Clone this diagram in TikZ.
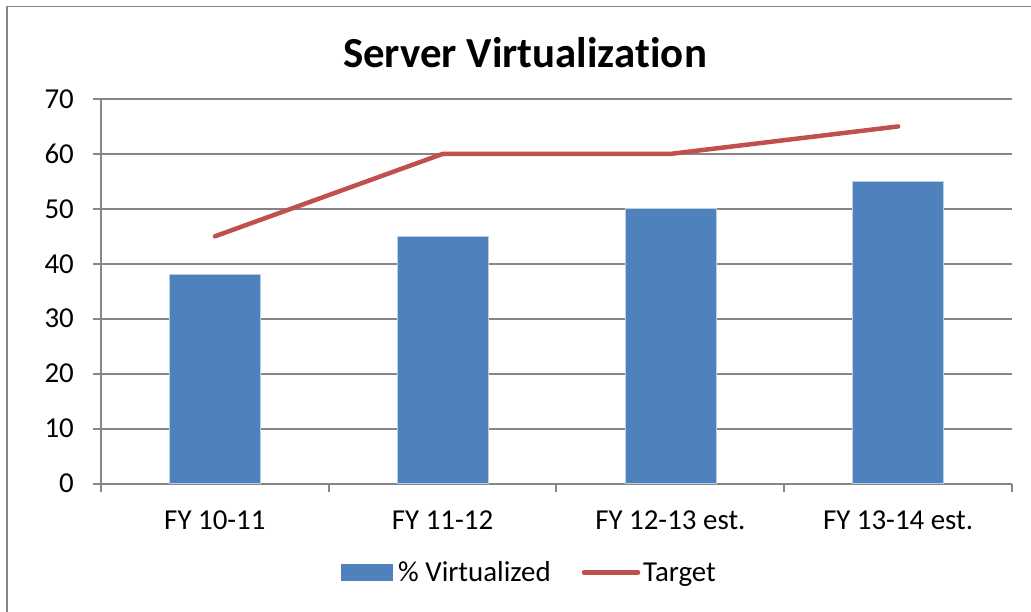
\documentclass[tikz,border=0pt]{standalone}
\usepackage{fontspec}
\setmainfont[RawFeature=-liga]{Carlito}
\definecolor{barblue}{HTML}{4F81BD}
\definecolor{baredge}{HTML}{B9CDE5}
\definecolor{targetred}{HTML}{C0504D}
\definecolor{gridgray}{HTML}{868686}

\begin{document}
\begin{tikzpicture}[x=1bp, y=-1bp,
    grid/.style ={draw=gridgray, line width=2bp},
    bar/.style ={fill=barblue, draw=baredge, line width=0.8bp},
    target/.style ={draw=targetred, line width=4.5bp, line cap=round, line join=round},
    lbl/.style ={font=\fontsize{29}{32}\selectfont, inner sep=0pt}]
   \useasboundingbox (0,0) rectangle (1031,612);
   % chart frame
   \draw[grid, line width=1.5bp] (7,612) -- (7,6.5) -- (1031,6.5);

   \node[font=\fontsize{43}{48}\selectfont\bfseries, inner sep=0pt, anchor=base] (title) at (525,68) {Server Virtualiza\kern0pt t\kern0pt ion};

   \begin{scope}[shift={(0,483.5)}, y=5.493bp]
   % gridlines and ticks
   \draw[grid] (93,10) -- (1012,10);
   \draw[grid] (93,20) -- (1012,20);
   \draw[grid] (93,30) -- (1012,30);
   \draw[grid] (93,40) -- (1012,40);
   \draw[grid] (93,50) -- (1012,50);
   \draw[grid] (93,60) -- (1012,60);
   \draw[grid] (93,70) -- (1012,70);
   \draw[grid] (101,70) -- (101,0);
   \draw[grid] (93,0) -- (1012,0);
   \draw[grid] (101,0) -- (101,-1.6);
   \draw[grid] (329,0) -- (329,-1.6);
   \draw[grid] (556,0) -- (556,-1.6);
   \draw[grid] (784,0) -- (784,-1.6);
   \draw[grid] (1012,0) -- (1012,-1.6);

   \node[lbl, anchor=east] (y0)  at (74,0)  {0};
   \node[lbl, anchor=east] (y10) at (74,10) {10};
   \node[lbl, anchor=east] (y20) at (74,20) {20};
   \node[lbl, anchor=east] (y30) at (74,30) {30};
   \node[lbl, anchor=east] (y40) at (74,40) {40};
   \node[lbl, anchor=east] (y50) at (74,50) {50};
   \node[lbl, anchor=east] (y60) at (74,60) {60};
   \node[lbl, anchor=east] (y70) at (74,70) {70};

   % bars
   \draw[bar] (169.4,0) rectangle (260.4,38);
   \draw[bar] (397.1,0) rectangle (488.1,45);
   \draw[bar] (624.9,0) rectangle (715.9,50);
   \draw[bar] (852.6,0) rectangle (943.6,55);

   \node[lbl, anchor=base] (fy1) at (214.9,-8.3) {FY 10-11};
   \node[lbl, anchor=base] (fy2) at (442.6,-8.3) {FY 11-12};
   \node[lbl, anchor=base] (fy3) at (670.4,-8.3) {FY 12-13 est.};
   \node[lbl, anchor=base] (fy4) at (898.1,-8.3) {FY 13-14 est.};

   % target line
   \coordinate (T1) at (214.9,45);
   \coordinate (T2) at (442.6,60);
   \coordinate (T3) at (670.4,60);
   \coordinate (T4) at (898.1,65);
   \draw[target] (T1) -- (T2) -- (T3) -- (T4);
   \end{scope}

   % legend
   \fill[barblue] (341,564) rectangle (393,581);
   \node[lbl, anchor=base west] (virt) at (398,581) {\% Virtualized};
   \coordinate (L1) at (584,572.5);
   \coordinate (L2) at (638,572.5);
   \draw[target] (L1) -- (L2);
   \node[lbl, anchor=base west] (targ) at (643,581) {Target};
 \end{tikzpicture}
\end{document}
